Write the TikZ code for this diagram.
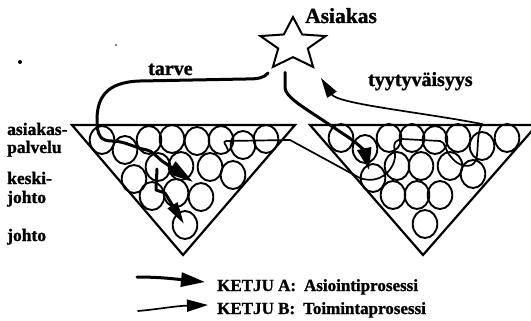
\documentclass[tikz,border=0pt]{standalone}
\usepackage{fontspec}
\setmainfont{Liberation Serif}[BoldFeatures={FakeBold=1.3}]
\usetikzlibrary{shapes.geometric,arrows.meta,positioning}

\begin{document}
\begin{tikzpicture}[x=1pt, y=-1pt,
    lbl/.style={font=\fontsize{17.5}{20}\selectfont\bfseries, inner sep=0pt, anchor=base west},
    biglbl/.style={lbl, font=\fontsize{20}{22}\selectfont\bfseries},
    leglbl/.style={lbl, font=\fontsize{17}{20}\selectfont\bfseries},
    tri/.style={draw, line width=2.2pt, line join=miter},
    ball/.style={line width=1.9pt},
    ketjua/.style={line width=3pt, line cap=round, line join=round,
        -{Triangle[length=26pt,width=14pt]}},
    ketjub/.style={line width=1.7pt, line cap=round, line join=round,
        -{Triangle[length=20pt,width=11pt]}}
]
    \clip (0,0) rectangle (531,321);

    % Customer
    \begin{scope}[shift={(293,44.6)}, xscale=1.24]
        \node[star, star points=5, star point ratio=2.2, minimum size=55.2pt,
            inner sep=0pt, draw, line width=2pt, transform shape] (asiakas) at (0,0) {};
    \end{scope}
    \node[biglbl, font=\fontsize{21.5}{22}\selectfont\bfseries] (asiakaslbl) at (305,23) {Asiakas};

    % Levels
    \node[lbl] (asiakaspalvelu) at (7,135) {asiakas-};
    \node[lbl] (palvelu) at (7,153) {palvelu};
    \node[lbl] (keski) at (7,184) {keski-};
    \node[lbl] (keskijohto) at (7,203) {johto};
    \node[lbl] (johto) at (7,241) {johto};

    % Organisations
    \draw[tri] (72,125) -- (295,125) -- (183,255) -- cycle;
    \draw[tri] (310,125) -- (537,125) -- (423,255) -- cycle;

    \foreach \cx/\cy in {102/140, 125/150, 149/140, 172/139, 197/141, 221/140, 243/145, 266/139,
        134/179, 158/167, 181/166, 210/167, 233/175,
        152/196, 176/193, 201/197, 185/225}
        \draw[ball] (\cx,\cy) ellipse [x radius=12.3pt, y radius=14pt];

    \foreach \cx/\cy in {341/138, 365/149, 389/138, 412/138, 435/140, 458/138, 482/146, 507/138,
        373/178, 397/166, 421/166, 450/166, 473/174,
        393/195, 417/195, 440/195, 425/224}
        \draw[ball] (\cx,\cy) ellipse [x radius=12.3pt, y radius=14pt];

    % Chain A
    \coordinate (keskitip) at (193,182);
    \coordinate (johtostart) at (157,169);
    \coordinate (johtotip) at (184,224);
    \coordinate (palvelutip) at (369,170);

    \draw[ketjua] ([shift={(-3,4)}]asiakas.outer point 3) .. controls (264,78) and (258,79) .. (246,79)
        -- (140,81) .. controls (106,82) and (97,98) .. (97,120)
        .. controls (97,136) and (101,141) .. (112,141)
        .. controls (125,141) and (135,148) .. (147,150)
        .. controls (152,151) and (156,156) .. (162,161) -- (keskitip);
    \draw[ketjua, -{Triangle[length=22pt,width=11pt]}] (johtostart) -- (156,190) -- (165,193) -- (johtotip);
    \draw[ketjua, -{Triangle[length=22pt,width=14pt]}] ([shift={(-8,14)}]asiakas.inner point 3) -- (285,88)
        .. controls (286,96) and (298,104) .. (318,117) -- (348,137)
        .. controls (360,145) and (365,152) .. (palvelutip);
    \node[biglbl] (tarve) at (148,75) {tarve};

    % Chain B
    \draw[ketjub] (228,150) .. controls (226,144) and (222,142) .. (226,141) -- (290,140) -- (358,177)
        .. controls (372,184) and (388,178) .. (394,162)
        .. controls (398,150) and (388,142) .. (402,139) -- (440,141)
        .. controls (446,142) and (444,150) .. (452,158)
        .. controls (458,166) and (472,170) .. (476,160)
        .. controls (479,150) and (476,135) .. (482,124)
        .. controls (420,112) and (338,104) .. ([shift={(6,9)}]asiakas.outer point 4);
    \node[biglbl] (tyytyvaisyys) at (368,86) {tyytyväisyys};

    % Legend
    \coordinate (legAstart) at (137,277);
    \coordinate (legAtip) at (205,282);
    \coordinate (legBstart) at (138,311);
    \coordinate (legBtip) at (208,305);
    \draw[ketjua, -{Triangle[length=24pt,width=14pt]}] (legAstart) .. controls (160,277) and (175,279) .. (legAtip);
    \draw[ketjub, -{Triangle[length=21pt,width=12pt]}] (legBstart) .. controls (160,309) and (175,306) .. (legBtip);
    \node[leglbl] (ketjuA) at (217,291) {KETJU A:\hspace{8pt}Asiointiprosessi};
    \node[leglbl] (ketjuB) at (217,314) {KETJU B:\hspace{8pt}Toimintaprosessi};

    % Specks
    \fill (20,62) circle (2pt);
    \fill (116,45) circle (0.8pt);
\end{tikzpicture}
\end{document}
